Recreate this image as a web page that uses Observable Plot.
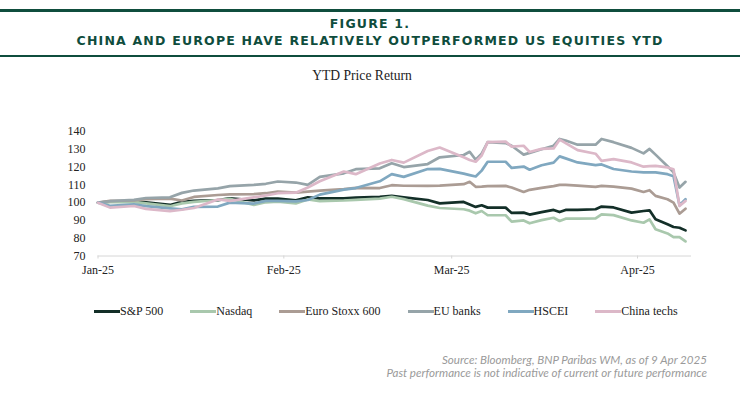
<!DOCTYPE html>
<html>
<head>
<meta charset="utf-8">
<script src="https://cdn.jsdelivr.net/npm/d3@7"></script>
<script src="https://cdn.jsdelivr.net/npm/@observablehq/plot@0.6"></script>
<style>
  body { margin: 0; background: #fff; }
  #wrap { position: relative; width: 740px; height: 398px; overflow: hidden; background: #fff; }
  .rule { position: absolute; left: 0; width: 740px; background: #0f4d3d; }
  .title { position: absolute; left: 0; width: 740px; text-align: center; font-family: "DejaVu Sans", sans-serif;
           font-weight: bold; color: #0f4d3d; font-size: 12.5px; line-height: 12.5px; letter-spacing: 1.2px; white-space: nowrap; }
  .subtitle { position: absolute; left: -8px; width: 740px; text-align: center; font-family: "Liberation Serif", serif;
              font-size: 13.6px; line-height: 14px; color: #222; }
  #chart { position: absolute; left: 0; top: 90px; }
  #legend { position: absolute; left: 94px; top: 304px; height: 14px; display: flex; align-items: center; gap: 27px;
            font-family: "Liberation Serif", serif; font-size: 12px; color: #222; white-space: nowrap; }
  .item { display: flex; align-items: center; }
  .sw { width: 26px; height: 3px; }
  .caption { position: absolute; right: 33px; top: 352.5px; text-align: right; font-family: Lato, sans-serif;
             font-style: italic; font-size: 11.6px; line-height: 13.5px; color: #9a9a9a; white-space: nowrap; }
</style>
</head>
<body>
<div id="wrap">
  <div class="rule" style="top:9px;height:3px"></div>
  <div class="title" style="top:17.7px">FIGURE 1.</div>
  <div class="title" style="top:35.1px">CHINA AND EUROPE HAVE RELATIVELY OUTPERFORMED US EQUITIES YTD</div>
  <div class="rule" style="top:55px;height:2px"></div>
  <div class="subtitle" style="top:69.3px">YTD Price Return</div>
  <div id="chart"></div>
  <div id="legend"></div>
  <div class="caption">Source: Bloomberg, BNP Paribas WM, as of 9 Apr 2025<br>Past performance is not indicative of current or future performance</div>
</div>
<script>
// ---- data (YTD price return, rebased to 100) ----
const dates = ["2025-01-01","2025-01-03","2025-01-07","2025-01-09","2025-01-13","2025-01-15","2025-01-17","2025-01-21",
  "2025-01-23","2025-01-27","2025-01-29","2025-01-31","2025-02-03","2025-02-05","2025-02-07","2025-02-11","2025-02-13",
  "2025-02-17","2025-02-19","2025-02-21","2025-02-25","2025-02-27","2025-03-03","2025-03-04","2025-03-05","2025-03-06",
  "2025-03-07","2025-03-10","2025-03-11","2025-03-13","2025-03-14","2025-03-16","2025-03-18","2025-03-19","2025-03-20",
  "2025-03-22","2025-03-25","2025-03-26","2025-03-28","2025-03-31","2025-04-02","2025-04-03","2025-04-04","2025-04-06",
  "2025-04-07","2025-04-08","2025-04-09"];

const sp500 = [100.0,100.5,100.6,100.1,98.7,100.4,101.0,101.4,102.4,101.3,102.3,102.3,101.3,103.0,102.4,102.4,102.8,103.2,
  103.8,103.0,101.5,99.6,100.4,99.0,97.6,98.5,97.2,97.2,94.2,94.4,93.3,94.7,95.9,94.7,95.9,95.9,96.3,97.8,97.3,94.4,95.3,
  95.7,90.6,87.8,86.3,85.9,84.4];
const nasdaq = [100.0,100.3,100.4,99.6,98.0,99.6,100.4,101.5,102.2,98.7,100.2,100.6,99.6,101.8,100.8,101.2,101.6,102.3,
  103.3,102.0,98.3,97.0,96.3,95.5,94.0,95.3,92.9,92.9,89.3,90.0,88.4,90.2,91.5,89.7,91.0,91.0,91.1,93.4,93.0,90.0,88.7,
  90.6,85.0,82.7,80.6,80.6,78.2];
const euroStoxx600 = [100.0,101.0,101.2,101.9,102.3,101.2,103.2,104.3,104.6,104.8,105.3,106.2,105.6,106.2,106.8,107.6,
  108.3,108.2,109.8,109.5,109.4,109.6,110.4,111.7,108.9,109.0,109.3,109.4,108.5,106.0,107.2,108.3,109.3,110.0,110.0,109.6,
  108.9,109.4,109.0,107.9,106.0,107.0,103.8,101.9,100.0,93.8,96.6];
const euBanks = [100.0,100.8,101.6,102.6,103.0,105.5,106.8,108.0,109.3,110.0,110.6,111.9,111.3,110.0,114.5,116.5,118.8,
  119.3,122.2,120.0,121.7,125.5,126.8,128.6,124.1,127.5,134.0,133.5,132.0,127.0,128.0,130.0,132.0,135.8,134.9,132.6,132.6,
  135.8,134.0,130.8,127.7,130.2,127.0,120.5,117.0,108.5,111.7];
const hscei = [100.0,98.2,99.0,98.0,96.8,96.3,97.6,97.8,100.0,99.5,101.0,101.0,100.7,101.5,104.5,107.3,108.2,112.0,116.0,
  114.5,118.9,119.0,116.3,115.5,114.7,118.0,123.0,123.0,119.5,120.3,118.5,121.0,122.5,126.0,124.9,122.6,121.1,121.5,118.9,
  117.5,117.0,117.0,117.0,116.0,114.8,98.5,101.9];
const chinaTechs = [100.0,97.2,98.1,96.5,95.2,96.0,97.0,101.8,101.0,103.0,104.0,105.3,105.6,108.5,112.0,117.5,116.0,122.0,
  124.0,122.5,129.0,131.0,125.5,124.0,123.0,126.5,134.0,134.3,131.5,132.0,128.5,130.2,130.5,135.4,133.5,129.5,127.5,123.5,
  124.5,122.6,120.2,120.5,120.7,119.8,118.8,98.1,101.0];

const seriesNames = ["S&P 500", "Nasdaq", "Euro Stoxx 600", "EU banks", "HSCEI", "China techs"];
const seriesValues = [sp500, nasdaq, euroStoxx600, euBanks, hscei, chinaTechs];
const yTicks = [70, 80, 90, 100, 110, 120, 130, 140];
const xTicks = ["2025-01-01", "2025-02-01", "2025-03-01", "2025-04-01"];

// ---- styles ----
const seriesColors = ["#132f28", "#a9c8ad", "#ab9c94", "#96a4a9", "#80a8c0", "#dcb8c8"];

const parsedDates = dates.map(d => new Date(d));
const lineMarks = seriesValues.map((vals, k) =>
  Plot.line(vals.map((v, i) => ({date: parsedDates[i], value: v})), {
    x: "date", y: "value", stroke: seriesColors[k], strokeWidth: 2.7,
    strokeLinejoin: "round", strokeLinecap: "round"
  })
);

const chart = Plot.plot({
  width: 740, height: 200,
  marginLeft: 97.5, marginRight: 49, marginTop: 41, marginBottom: 34.5,
  x: {type: "utc", domain: [new Date("2025-01-01"), new Date("2025-04-10")]},
  y: {domain: [70, 140]},
  style: {fontFamily: "'Liberation Serif', serif", fontSize: "12px", color: "#222", background: "transparent"},
  marks: [
    Plot.axisY({ticks: yTicks, tickSize: 0, tickPadding: 12.5, label: null}),
    Plot.ruleY([70], {stroke: "#d6d6d6", strokeWidth: 1}),
    Plot.axisX({ticks: xTicks.map(d => new Date(d)), tickFormat: d3.utcFormat("%b-%y"), tickSize: 3,
                stroke: "#d6d6d6", tickPadding: 6, label: null}),
    ...lineMarks
  ]
});
document.getElementById("chart").appendChild(chart);

const legend = document.getElementById("legend");
seriesNames.forEach((name, k) => {
  const item = document.createElement("div");
  item.className = "item";
  const sw = document.createElement("div");
  sw.className = "sw";
  sw.style.background = seriesColors[k];
  const label = document.createElement("span");
  label.textContent = name;
  item.appendChild(sw);
  item.appendChild(label);
  legend.appendChild(item);
});
</script>
</body>
</html>
